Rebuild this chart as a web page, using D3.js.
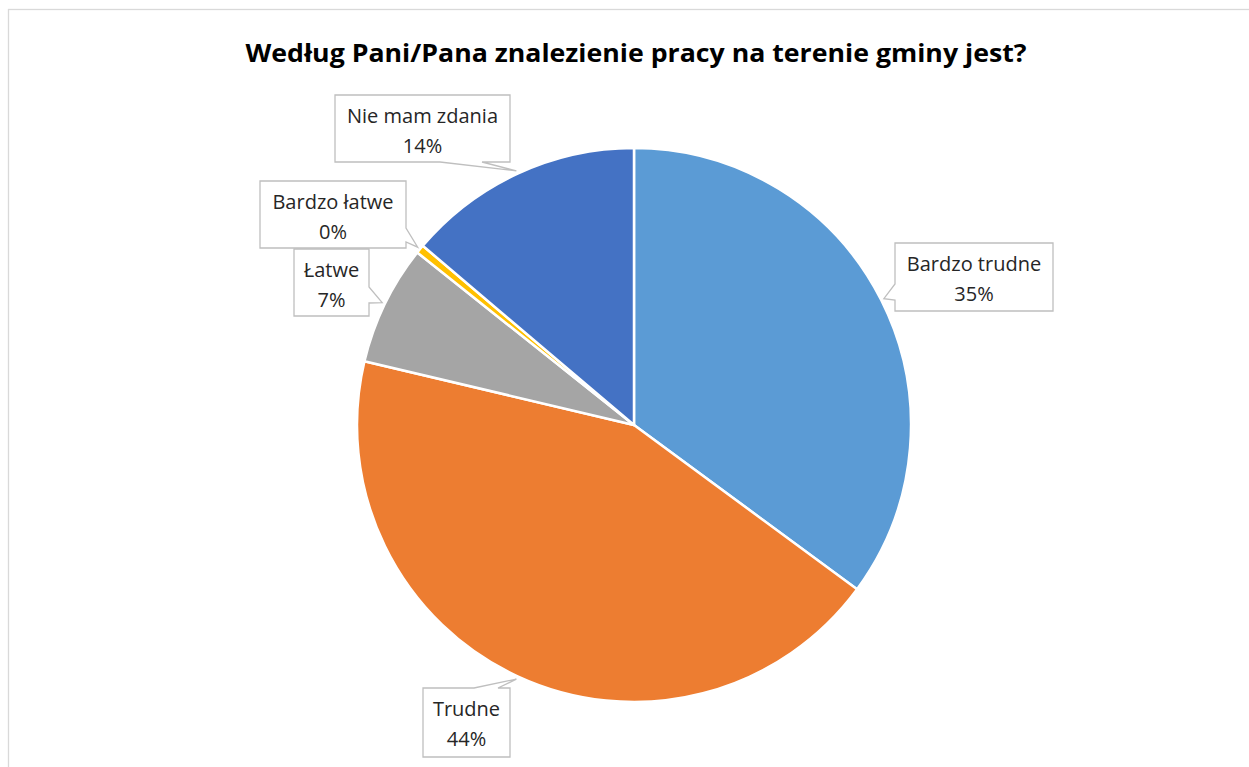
<!DOCTYPE html>
<html>
<head>
<meta charset="utf-8">
<script src="https://cdn.jsdelivr.net/npm/d3@7"></script>
<style>
  html, body { margin: 0; padding: 0; background: #fff; }
  svg { display: block; }
  text { font-family: "Open Sans", "Noto Sans", sans-serif; fill: #262626; }
</style>
</head>
<body>
<svg id="chart" width="1249" height="767"></svg>
<script>
// ---- data ----
const title = "Według Pani/Pana znalezienie pracy na terenie gminy jest?";
const categories = ["Bardzo trudne", "Trudne", "Łatwe", "Bardzo łatwe", "Nie mam zdania"];
const values = [35.1, 43.6, 7.0, 0.5, 13.8];
const percentLabels = ["35%", "44%", "7%", "0%", "14%"];
const colors = ["#5B9BD5", "#ED7D31", "#A5A5A5", "#FFC000", "#4472C4"];

// ---- layout (label boxes: x, y, w, h, wedge side, wedge start, wedge end) ----
const boxes = [
  {x: 895, y: 243, w: 158, h: 68, side: "left",   a: 284, b: 300},
  {x: 423, y: 688, w: 87,  h: 69, side: "top",    a: 474, b: 498},
  {x: 294, y: 249, w: 75,  h: 67, side: "right",  a: 287, b: 303},
  {x: 260, y: 181, w: 146, h: 67, side: "right",  a: 228, b: 242},
  {x: 335, y: 95,  w: 175, h: 67, side: "bottom", a: 440, b: 482}
];

const W = 1249, H = 767;
const cx = 634, cy = 425, R = 277;
const svg = d3.select("#chart");

// chart area border
svg.append("rect")
  .attr("x", 8.5).attr("y", 9.5)
  .attr("width", W + 10).attr("height", H + 10)
  .attr("fill", "#fff").attr("stroke", "#d9d9d9").attr("stroke-width", 1.3);

// title
svg.append("text")
  .attr("x", 636).attr("y", 62)
  .attr("text-anchor", "middle")
  .attr("font-size", 25).attr("font-weight", "bold")
  .attr("textLength", 781).attr("lengthAdjust", "spacingAndGlyphs")
  .style("fill", "#000")
  .text(title);

const data = categories.map((c, i) => ({cat: c, value: values[i], pct: percentLabels[i], color: colors[i], box: boxes[i]}));

const pie = d3.pie().sort(null).value(d => d.value).startAngle(0).endAngle(2 * Math.PI);
const arcs = pie(data);
const arc = d3.arc().innerRadius(0).outerRadius(R);

const g = svg.append("g").attr("transform", `translate(${cx},${cy})`);
g.selectAll("path.slice").data(arcs).join("path")
  .attr("class", "slice")
  .attr("d", arc)
  .attr("fill", d => d.data.color)
  .attr("stroke", "#fff").attr("stroke-width", 2.5).attr("stroke-linejoin", "round");

// callouts
function calloutPath(b, tx, ty) {
  const x0 = b.x, y0 = b.y, x1 = b.x + b.w, y1 = b.y + b.h;
  let p = [];
  if (b.side === "left") {
    p = [[x0, y0], [x1, y0], [x1, y1], [x0, y1], [x0, b.b], [tx, ty], [x0, b.a]];
  } else if (b.side === "right") {
    p = [[x0, y0], [x1, y0], [x1, b.a], [tx, ty], [x1, b.b], [x1, y1], [x0, y1]];
  } else if (b.side === "top") {
    p = [[x0, y0], [b.a, y0], [tx, ty], [b.b, y0], [x1, y0], [x1, y1], [x0, y1]];
  } else {
    p = [[x0, y0], [x1, y0], [x1, y1], [b.b, y1], [tx, ty], [b.a, y1], [x0, y1]];
  }
  return "M" + p.map(q => q.join(",")).join("L") + "Z";
}

const tipR = R + 3;
const labels = svg.append("g");
arcs.forEach(a => {
  const b = a.data.box;
  const mid = (a.startAngle + a.endAngle) / 2;
  const tx = cx + tipR * Math.sin(mid);
  const ty = cy - tipR * Math.cos(mid);
  labels.append("path")
    .attr("d", calloutPath(b, tx, ty))
    .attr("fill", "#fff").attr("stroke", "#bfbfbf").attr("stroke-width", 1.3);
  const mx = b.x + b.w / 2;
  labels.append("text")
    .attr("x", mx).attr("y", b.y + 28)
    .attr("text-anchor", "middle").attr("font-size", 20)
    .text(a.data.cat);
  labels.append("text")
    .attr("x", mx).attr("y", b.y + 58)
    .attr("text-anchor", "middle").attr("font-size", 20)
    .text(a.data.pct);
});
</script>
</body>
</html>
